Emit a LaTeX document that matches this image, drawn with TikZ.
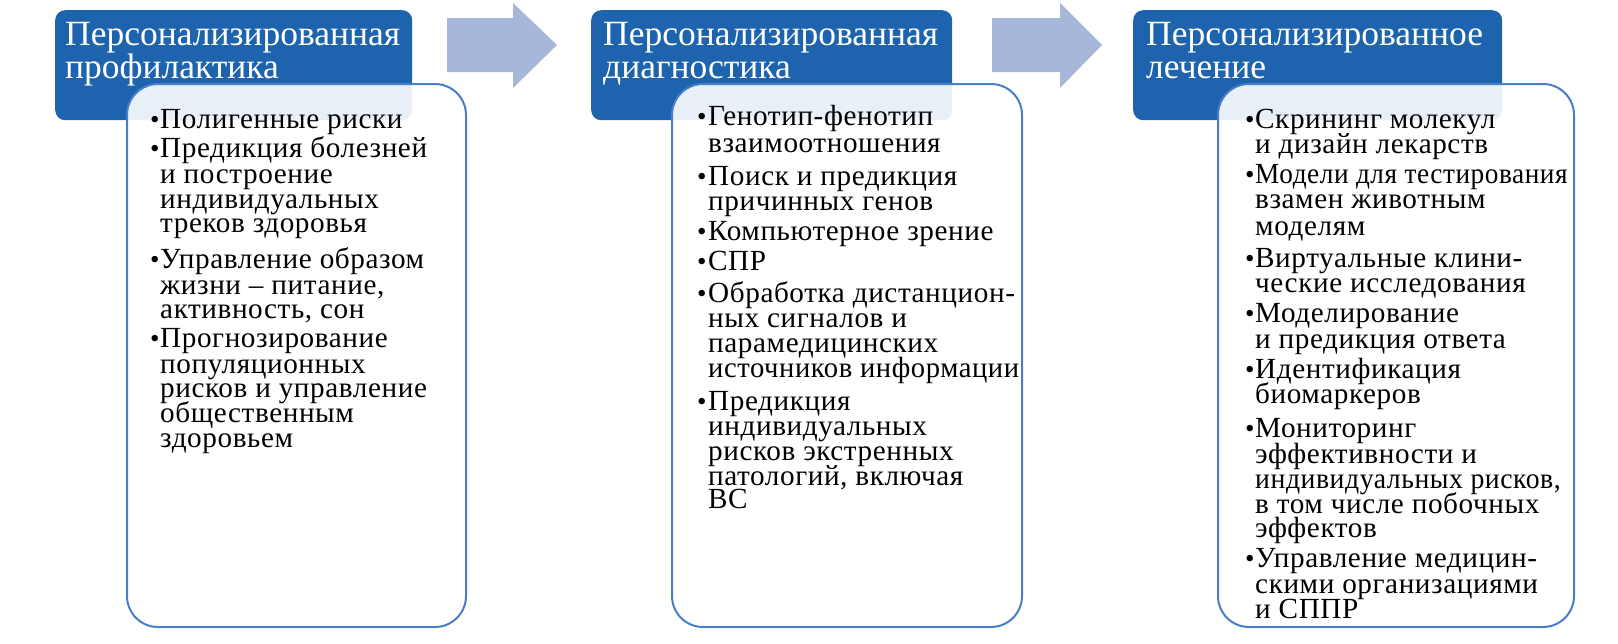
\documentclass[tikz,border=0pt]{standalone}
\usepackage{fontspec}
\setmainfont{Liberation Serif}
\newfontfamily\headfont{Liberation Serif}
\newfontfamily\bodyfont[LetterSpace=2]{Liberation Serif}
\definecolor{hdrblue}{RGB}{30,99,173}
\definecolor{arrowblue}{RGB}{166,183,218}
\definecolor{boxline}{RGB}{72,126,200}
\tikzset{
  hdr/.style={rectangle, rounded corners=10pt, fill=hdrblue, draw=none, anchor=north west, inner sep=0pt},
  bodybox/.style={rectangle, rounded corners=31pt, fill=white, fill opacity=0.9, draw=boxline, line width=2pt, anchor=north west, inner sep=0pt},
  bigarrow/.style={fill=arrowblue, draw=none},
  htext/.style={anchor=base west, inner sep=0pt, text=white, font=\fontsize{35.5}{33}\headfont},
  btext/.style={anchor=base west, inner sep=0pt, text=black, font=\fontsize{29.2}{25}\bodyfont},
  bdot/.style={anchor=base west, inner sep=0pt, text=black, font=\fontsize{27}{22}\selectfont}
}
\begin{document}
\begin{tikzpicture}[x=1pt,y=-1pt]
\useasboundingbox (0,0) rectangle (1618,643);
% headers
\node[hdr, minimum width=357pt, minimum height=110pt] (h1) at (55,10) {};
\node[hdr, minimum width=361pt, minimum height=110pt] (h2) at (591,10) {};
\node[hdr, minimum width=369pt, minimum height=110pt] (h3) at (1133,10) {};
% arrows
\fill[bigarrow] (447,18) -- (513,18) -- (513,3) -- (557,45) -- (513,88) -- (513,72) -- (447,72) -- cycle;
\fill[bigarrow] (992,18) -- (1060,18) -- (1060,3) -- (1102,45) -- (1060,88) -- (1060,72) -- (992,72) -- cycle;
% body boxes
\node[bodybox, minimum width=339pt, minimum height=543pt] (b1) at (126,83) {};
\node[bodybox, minimum width=350pt, minimum height=543pt] (b2) at (671,83) {};
\node[bodybox, minimum width=356pt, minimum height=543pt] (b3) at (1217,83) {};
% header texts
\node[htext] (h1a) at (65,45) {Персонализированная};
\node[htext] (h1b) at (65,78) {профилактика};
\node[htext] (h2a) at (603,45) {Персонализированная};
\node[htext] (h2b) at (603,78) {диагностика};
\node[htext] (h3a) at (1146,45) {Персонализированное};
\node[htext] (h3b) at (1146,78) {лечение};
% box 1
\foreach \y [count=\i] in {128,157,268,347}
  \node[bdot] (d1-\i) at (150,\y) {•};
\foreach \y/\t [count=\i] in {
  128/{Полигенные риски},
  157/{Предикция болезней},
  183/{и построение},
  208/{индивидуальных},
  232/{треков здоровья},
  268/{Управление образом},
  294/{жизни – питание,},
  318/{активность, сон},
  347/{Прогнозирование},
  373/{популяционных},
  397/{рисков и управление},
  422/{общественным},
  447/{здоровьем}}
  \node[btext] (t1-\i) at (160,\y) {\t};
% box 2
\foreach \y [count=\i] in {125,185,240,270,302,410}
  \node[bdot] (d2-\i) at (697,\y) {•};
\foreach \y/\t [count=\i] in {
  125/{Генотип-фенотип},
  152/{взаимоотношения},
  185/{Поиск и предикция},
  210/{причинных генов},
  240/{Компьютерное зрение},
  270/{СПР},
  302/{Обработка дистанцион-},
  327/{ных сигналов и},
  352/{парамедицинских},
  377/{\scalebox{0.98}[1]{источников информации}},
  410/{Предикция},
  435/{индивидуальных},
  460/{рисков экстренных},
  485/{патологий, включая},
  508/{ВС}}
  \node[btext] (t2-\i) at (708,\y) {\t};
% box 3
\foreach \y [count=\i] in {128,183,267,322,378,437,567}
  \node[bdot] (d3-\i) at (1245,\y) {•};
\foreach \y/\t [count=\i] in {
  128/{Скрининг молекул},
  153/{и дизайн лекарств},
  183/{\scalebox{0.935}[1]{Модели для тестирования}},
  208/{взамен животным},
  235/{моделям},
  267/{Виртуальные клини-},
  292/{ческие исследования},
  322/{Моделирование},
  348/{и предикция ответа},
  378/{Идентификация},
  403/{биомаркеров},
  437/{Мониторинг},
  463/{эффективности и},
  488/{\scalebox{0.95}[1]{индивидуальных рисков,}},
  513/{в том числе побочных},
  537/{эффектов},
  567/{Управление медицин-},
  593/{скими организациями},
  618/{и СППР}}
  \node[btext] (t3-\i) at (1255,\y) {\t};
\end{tikzpicture}
\end{document}
